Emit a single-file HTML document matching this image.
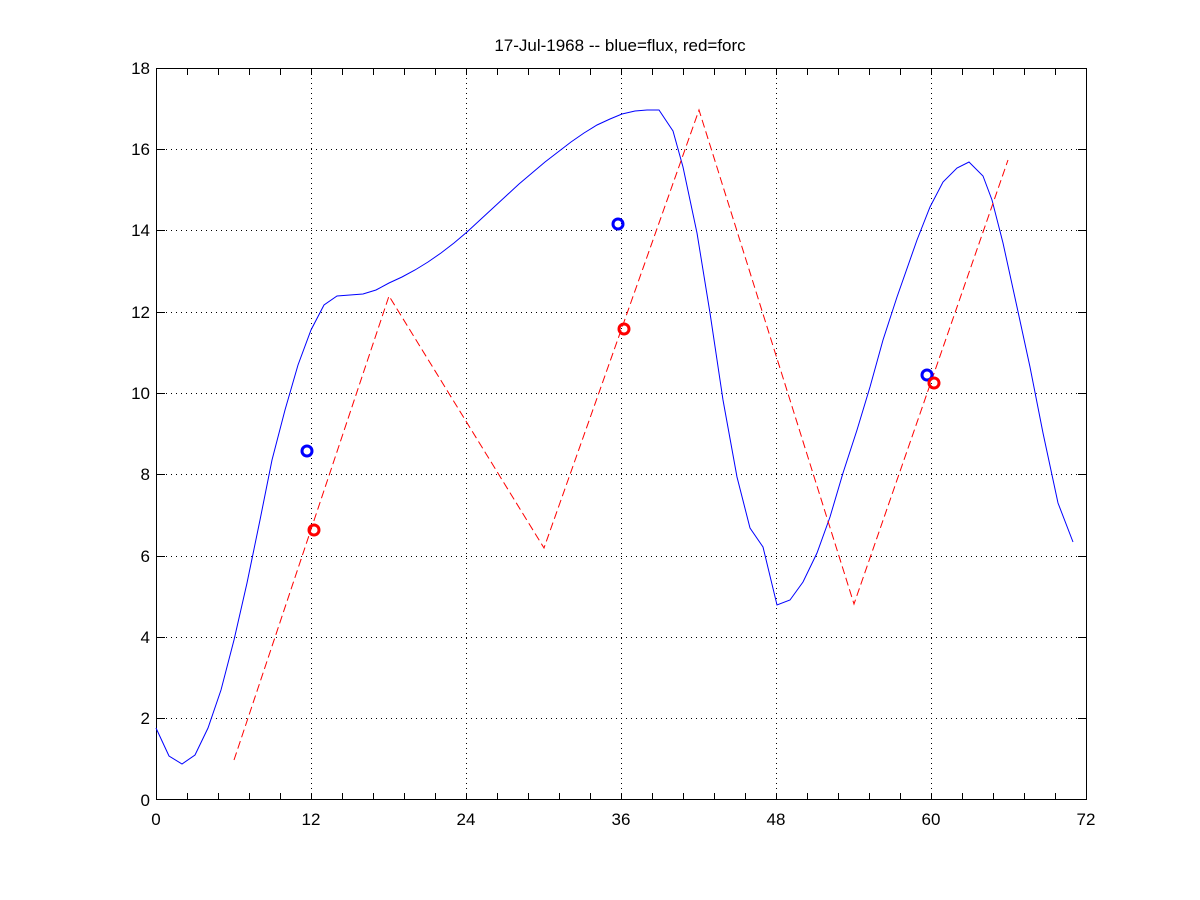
<!DOCTYPE html>
<html><head><meta charset="utf-8"><style>body{margin:0;background:#fff}svg{display:block}text{font-family:"Liberation Sans",sans-serif;font-size:17px;fill:#000}</style></head><body>
<svg width="1200" height="900" xmlns="http://www.w3.org/2000/svg">
<rect width="1200" height="900" fill="#fff"/>
<g stroke="#000" stroke-width="1" stroke-dasharray="1,4">
<line x1="311.5" y1="68" x2="311.5" y2="800"/><line x1="466.5" y1="68" x2="466.5" y2="800"/><line x1="621.5" y1="68" x2="621.5" y2="800"/><line x1="776.5" y1="68" x2="776.5" y2="800"/><line x1="931.5" y1="68" x2="931.5" y2="800"/>
<line x1="156" y1="149.5" x2="1087" y2="149.5"/><line x1="156" y1="230.5" x2="1087" y2="230.5"/><line x1="156" y1="312.5" x2="1087" y2="312.5"/><line x1="156" y1="393.5" x2="1087" y2="393.5"/><line x1="156" y1="474.5" x2="1087" y2="474.5"/><line x1="156" y1="556.5" x2="1087" y2="556.5"/><line x1="156" y1="637.5" x2="1087" y2="637.5"/><line x1="156" y1="718.5" x2="1087" y2="718.5"/>
</g>
<g stroke="#000" stroke-width="1">
<rect x="156.5" y="68.5" width="930" height="731" fill="none"/>
<path d="M187.5 800v-7M218.5 800v-7M249.5 800v-7M280.5 800v-7M311.5 800v-7M342.5 800v-7M373.5 800v-7M404.5 800v-7M435.5 800v-7M466.5 800v-7M497.5 800v-7M528.5 800v-7M559.5 800v-7M590.5 800v-7M621.5 800v-7M652.5 800v-7M683.5 800v-7M714.5 800v-7M745.5 800v-7M776.5 800v-7M807.5 800v-7M838.5 800v-7M869.5 800v-7M900.5 800v-7M931.5 800v-7M962.5 800v-7M993.5 800v-7M1024.5 800v-7M1055.5 800v-7"/>
<path d="M187.5 68v7M218.5 68v7M249.5 68v7M280.5 68v7M311.5 68v7M342.5 68v7M373.5 68v7M404.5 68v7M435.5 68v7M466.5 68v7M497.5 68v7M528.5 68v7M559.5 68v7M590.5 68v7M621.5 68v7M652.5 68v7M683.5 68v7M714.5 68v7M745.5 68v7M776.5 68v7M807.5 68v7M838.5 68v7M869.5 68v7M900.5 68v7M931.5 68v7M962.5 68v7M993.5 68v7M1024.5 68v7M1055.5 68v7"/>
<path d="M156 149.5h9M156 230.5h9M156 312.5h9M156 393.5h9M156 474.5h9M156 556.5h9M156 637.5h9M156 718.5h9M1087 149.5h-9M1087 230.5h-9M1087 312.5h-9M1087 393.5h-9M1087 474.5h-9M1087 556.5h-9M1087 637.5h-9M1087 718.5h-9"/>
</g>
<g text-anchor="middle">
<text x="156" y="825">0</text><text x="311" y="825">12</text><text x="466" y="825">24</text><text x="621" y="825">36</text><text x="776" y="825">48</text><text x="931" y="825">60</text><text x="1086" y="825">72</text>
<text x="620" y="51">17-Jul-1968 -- blue=flux, red=forc</text>
</g>
<g text-anchor="end">
<text x="150" y="806">0</text><text x="150" y="724">2</text><text x="150" y="643">4</text><text x="150" y="562">6</text><text x="150" y="480">8</text><text x="150" y="399">10</text><text x="150" y="318">12</text><text x="150" y="236">14</text><text x="150" y="155">16</text><text x="150" y="74">18</text>
</g>
<polyline fill="none" stroke="#00f" stroke-width="1" points="156,728 169,756 182,764 195,755 208,728 221,690 234,640 247,583 260,520 272,460 285,410 298,365 311,330 324,305 337,296 350,295 363,294 376,290 389,283 402,277 415,270 428,262 441,253 454,243 467,232 480,220 493,208 506,196 519,184 532,173 545,162 558,152 571,142 584,133 597,125 610,119 622,114 635,111 647,110 659,110 673,131 683,167 697,233 710,313 723,400 737,477 750,528 763,547 777,605 790,600 803,582 817,553 830,517 843,473 857,430 870,387 883,340 897,297 917,240 930,207 943,182 957,168 969,162 983,176 992,200 1003,243 1017,307 1030,367 1043,433 1058,503 1073,542"/>
<polyline fill="none" stroke="#f00" stroke-width="1" stroke-dasharray="8,4" points="234,760 389,296 544,548 699,110 854,604 1008,160"/>
<g fill="none" stroke-width="3">
<circle cx="307" cy="451" r="5" stroke="#00f"/><circle cx="618" cy="224" r="5" stroke="#00f"/><circle cx="927" cy="375" r="5" stroke="#00f"/>
<circle cx="314" cy="530" r="5" stroke="#f00"/><circle cx="624" cy="329" r="5" stroke="#f00"/><circle cx="934" cy="383" r="5" stroke="#f00"/>
</g>
</svg>
</body></html>
